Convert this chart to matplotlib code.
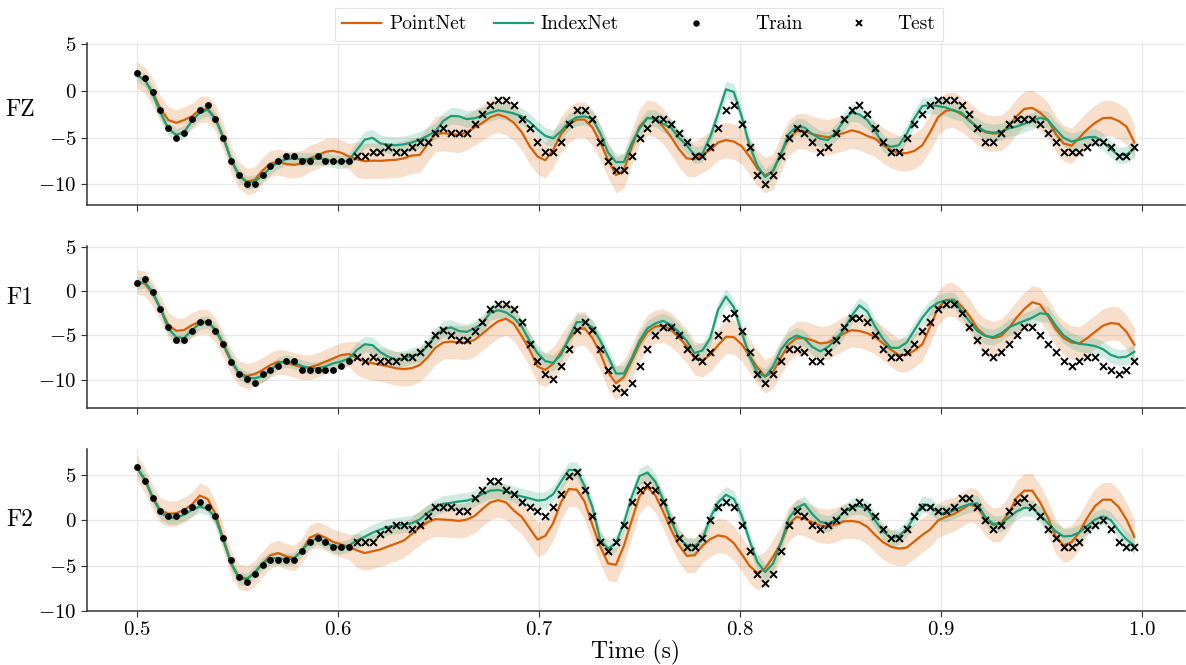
import matplotlib
matplotlib.use("Agg")
import matplotlib.pyplot as plt
import numpy as np
from matplotlib.lines import Line2D
from matplotlib.legend_handler import HandlerLine2D

plt.rcParams["font.family"] = ["cmr10", "DejaVu Serif"]
plt.rcParams["mathtext.fontset"] = "cm"
plt.rcParams["axes.formatter.use_mathtext"] = True

fs = 256          # sampling rate (Hz)
t_start = 0.5     # first sample (s)
n_train = 28      # samples used for training, the rest are test

channels = ["FZ", "F1", "F2"]

# recorded signal
fz_true = [
    1.9, 1.4, -0.1, -2.0, -4.0, -5.0, -4.5, -3.0, -2.0, -1.5,
    -3.0, -5.0, -7.5, -9.0, -10.0, -10.0, -9.0, -8.0, -7.5, -7.0,
    -7.0, -7.5, -7.5, -7.0, -7.5, -7.5, -7.5, -7.5, -7.0, -7.0,
    -6.5, -6.5, -6.0, -6.5, -6.5, -6.0, -5.5, -5.5, -4.5, -4.0,
    -4.5, -4.5, -4.5, -3.5, -2.5, -1.5, -1.0, -1.0, -1.5, -3.0,
    -4.0, -5.5, -6.5, -6.5, -5.5, -3.5, -2.0, -2.0, -3.0, -5.5,
    -7.5, -8.5, -8.5, -7.0, -5.0, -4.0, -3.0, -3.0, -3.5, -4.5,
    -5.5, -7.0, -7.0, -6.0, -4.0, -2.0, -1.5, -3.5, -6.0, -9.0,
    -10.0, -9.0, -7.0, -5.0, -4.0, -4.5, -5.5, -6.5, -6.0, -4.5,
    -3.0, -2.0, -1.5, -2.5, -4.0, -5.5, -6.5, -6.5, -5.0, -3.5,
    -2.5, -1.5, -1.0, -1.0, -1.0, -1.5, -2.5, -4.0, -5.5, -5.5,
    -4.5, -3.5, -3.0, -3.0, -3.0, -3.5, -4.5, -5.5, -6.5, -6.5,
    -6.5, -6.0, -5.5, -5.5, -6.0, -7.0, -7.0, -6.0]
f1_true = [
    0.9, 1.4, -0.1, -2.0, -4.0, -5.5, -5.5, -4.5, -3.5, -3.5,
    -4.5, -6.0, -8.0, -9.4, -9.9, -10.4, -9.4, -8.9, -8.4, -7.9,
    -7.9, -8.9, -8.9, -8.9, -8.9, -8.9, -8.4, -7.9, -7.4, -7.9,
    -7.4, -7.9, -7.9, -7.9, -7.4, -7.4, -6.9, -6.0, -5.0, -4.4,
    -5.0, -5.5, -5.5, -4.5, -3.5, -2.0, -1.5, -1.5, -2.0, -3.5,
    -6.0, -7.9, -9.4, -9.9, -8.4, -6.5, -4.4, -3.5, -4.4, -6.5,
    -8.9, -10.9, -11.4, -10.4, -8.4, -6.5, -5.0, -4.0, -4.0, -5.0,
    -6.5, -7.4, -7.9, -6.9, -5.0, -3.0, -2.5, -4.5, -6.9, -9.4,
    -10.4, -9.4, -7.9, -6.5, -6.5, -6.9, -7.9, -7.9, -6.9, -5.5,
    -4.0, -3.0, -3.0, -3.5, -5.0, -6.5, -7.4, -7.4, -6.9, -6.0,
    -4.5, -3.5, -2.0, -1.5, -1.5, -2.5, -4.0, -5.5, -6.9, -7.4,
    -6.9, -6.0, -5.0, -4.0, -4.0, -5.0, -6.0, -6.9, -7.9, -8.4,
    -7.9, -7.4, -7.4, -8.4, -8.9, -9.4, -8.9, -7.9]
f2_true = [
    5.9, 4.4, 2.45, 1.0, 0.5, 0.5, 1.0, 1.5, 2.0, 1.5,
    0.5, -1.9, -4.4, -6.2, -6.8, -5.9, -4.9, -4.4, -4.4, -4.4,
    -4.4, -3.4, -2.4, -1.9, -2.4, -2.9, -2.9, -2.9, -2.4, -2.4,
    -2.4, -1.5, -0.95, -0.5, -0.5, -0.95, -0.5, 0.5, 1.5, 1.5,
    1.5, 1.0, 1.0, 2.45, 3.4, 4.4, 4.4, 3.4, 2.9, 2.0,
    1.5, 1.0, 0.5, 1.5, 2.9, 4.9, 5.4, 3.4, 0.5, -2.4,
    -3.4, -2.4, -0.5, 2.0, 3.4, 3.9, 3.4, 2.0, 0.1, -1.9,
    -2.9, -2.9, -1.9, 0.1, 1.5, 2.0, 1.5, -0.5, -3.4, -5.9,
    -6.9, -5.9, -3.4, -0.5, 1.0, 0.5, -0.5, -0.95, -0.5, 0.1,
    1.0, 1.5, 2.0, 1.5, 0.5, -0.95, -1.9, -1.9, -0.95, 0.5,
    1.5, 1.5, 1.0, 1.0, 1.5, 2.45, 2.45, 1.5, 0.1, -0.95,
    -0.5, 1.0, 2.0, 2.45, 1.5, 0.5, -0.95, -1.9, -2.9, -2.9,
    -2.4, -0.95, -0.5, 0.1, -0.95, -2.4, -2.9, -2.9]

# PointNet prediction (mean)
fz_point = [
    1.7, 1.2, -0.1, -1.9, -3.1, -3.4, -3.1, -2.7, -2.0, -1.9,
    -2.9, -4.9, -7.4, -9.0, -9.7, -9.5, -8.5, -7.75, -7.6, -7.8,
    -7.9, -7.75, -7.2, -6.9, -6.5, -6.4, -6.6, -7.0, -7.3, -7.5,
    -7.45, -7.47, -7.4, -7.35, -7.2, -6.9, -6.85, -5.7, -4.6, -4.5,
    -4.6, -4.7, -4.4, -3.9, -3.4, -2.8, -2.5, -2.8, -3.4, -4.4,
    -5.9, -7.0, -7.4, -6.3, -4.6, -3.6, -3.05, -3.05, -3.9, -5.5,
    -7.4, -9.0, -8.5, -6.0, -3.8, -2.85, -3.0, -3.8, -4.9, -6.2,
    -7.2, -7.3, -6.8, -6.3, -5.5, -5.25, -5.4, -5.9, -7.0, -8.3,
    -9.0, -8.6, -6.7, -5.0, -4.3, -4.3, -4.6, -4.8, -4.95, -4.7,
    -4.5, -4.2, -4.4, -4.8, -5.1, -5.8, -6.3, -6.65, -6.65, -6.4,
    -5.8, -4.4, -2.8, -2.1, -2.0, -2.5, -3.1, -3.9, -4.4, -4.55,
    -4.5, -3.8, -2.7, -1.9, -1.8, -2.3, -3.1, -4.6, -5.6, -5.85,
    -5.0, -4.1, -3.4, -2.9, -2.85, -3.2, -3.8, -5.5]
f1_point = [
    1.05, 0.86, -0.26, -1.96, -3.84, -4.47, -4.4, -3.84, -3.46, -3.46,
    -4.4, -6.09, -7.97, -9.28, -9.58, -9.36, -8.9, -8.34, -7.97, -8.08,
    -8.34, -8.6, -8.6, -8.34, -7.97, -7.59, -7.22, -7.1, -7.59, -7.97,
    -8.15, -8.3, -8.5, -8.72, -8.8, -8.7, -8.35, -7.5, -6.4, -5.8,
    -5.7, -5.8, -5.8, -5.5, -4.8, -4.05, -3.4, -3.1, -3.7, -5.1,
    -6.6, -8.5, -8.9, -8.2, -6.9, -5.5, -4.3, -4.2, -5.3, -7.0,
    -9.2, -10.4, -9.7, -7.9, -6.0, -4.6, -4.0, -3.9, -4.35, -5.2,
    -6.2, -7.55, -7.8, -7.2, -6.1, -5.15, -5.2, -6.0, -7.3, -8.6,
    -9.65, -9.1, -7.5, -6.0, -5.3, -5.3, -5.55, -5.9, -5.8, -5.3,
    -4.8, -4.4, -4.5, -4.75, -5.2, -5.9, -6.6, -7.2, -7.2, -6.7,
    -6.0, -4.0, -1.9, -1.0, -0.95, -1.7, -2.8, -4.2, -5.0, -5.3,
    -5.1, -4.2, -3.0, -2.0, -1.25, -1.5, -2.8, -4.3, -5.3, -5.8,
    -5.9, -5.3, -4.6, -3.9, -3.6, -3.7, -4.6, -6.05]
f2_point = [
    5.86, 4.47, 2.56, 1.1, 0.73, 0.8, 1.17, 1.76, 2.75, 2.38,
    0.73, -2.0, -4.76, -6.23, -6.4, -5.86, -4.76, -3.85, -3.6, -3.96,
    -4.14, -3.37, -1.9, -1.54, -1.9, -2.38, -2.64, -2.93, -3.3, -3.6,
    -3.4, -3.2, -2.85, -2.55, -2.2, -1.5, -0.8, -0.2, 0.15, 0.1,
    0.05, -0.05, 0.1, 0.5, 1.28, 2.0, 2.25, 2.0, 1.1, 0.4,
    -0.85, -2.1, -1.7, -0.3, 2.0, 3.48, 3.4, 2.1, -0.5, -2.9,
    -4.75, -4.9, -2.8, 0.0, 2.7, 3.66, 2.8, 1.0, -1.0, -2.7,
    -3.9, -3.85, -2.8, -2.05, -1.65, -1.8, -2.5, -3.7, -5.0, -5.8,
    -5.3, -4.0, -2.5, -0.4, 0.4, 0.2, -0.2, -0.55, -0.65, -0.45,
    -0.1, -0.05, -0.2, -0.7, -1.6, -2.4, -2.9, -3.1, -3.0, -2.3,
    -1.6, -1.0, 0.0, 0.4, 0.7, 1.2, 1.75, 1.5, 0.25, -0.5,
    -0.37, 0.8, 2.5, 3.3, 3.3, 2.0, 0.3, -1.8, -2.75, -2.4,
    -1.3, 0.3, 1.6, 2.3, 2.3, 1.5, 0.1, -1.8]

# IndexNet prediction (mean)
fz_index = [
    1.7, 1.2, -0.3, -2.3, -4.0, -4.7, -4.4, -3.2, -2.3, -2.0,
    -3.0, -5.0, -7.4, -9.0, -9.8, -9.7, -9.0, -8.2, -7.6, -7.3,
    -7.2, -7.3, -7.3, -7.2, -7.3, -7.5, -7.6, -7.4, -6.3, -5.2,
    -5.0, -5.6, -5.75, -5.8, -5.7, -5.5, -5.2, -4.8, -4.3, -3.2,
    -2.65, -2.7, -3.0, -2.9, -2.65, -2.3, -2.05, -2.2, -2.4, -2.7,
    -3.3, -4.1, -4.8, -5.05, -4.3, -3.3, -2.8, -2.7, -3.0, -4.5,
    -6.6, -7.6, -7.6, -5.6, -4.0, -2.9, -2.9, -3.5, -3.9, -5.0,
    -5.8, -6.85, -6.7, -4.9, -2.4, 0.2, -0.1, -2.7, -5.8, -8.0,
    -9.2, -8.5, -6.7, -4.6, -3.8, -3.9, -4.6, -5.1, -5.25, -4.4,
    -3.2, -2.3, -2.5, -3.1, -4.3, -5.6, -5.97, -5.8, -4.6, -2.9,
    -1.6, -1.5, -1.6, -1.75, -2.1, -2.3, -3.2, -3.8, -4.3, -4.45,
    -4.35, -4.0, -3.8, -3.5, -3.2, -2.85, -3.1, -4.1, -5.0, -5.4,
    -5.2, -4.95, -4.9, -5.4, -6.2, -6.9, -6.8, -6.15]
f1_index = [
    0.9, 1.05, -0.1, -2.0, -4.2, -5.2, -5.3, -4.4, -3.65, -3.45,
    -4.3, -5.9, -7.8, -9.3, -9.8, -9.85, -9.6, -8.9, -8.15, -7.9,
    -8.1, -8.45, -8.7, -8.7, -8.5, -8.15, -7.95, -7.6, -6.65, -6.0,
    -6.1, -6.9, -7.4, -7.75, -7.6, -7.3, -7.1, -6.2, -5.1, -4.3,
    -4.1, -4.5, -4.6, -4.2, -3.65, -2.4, -2.15, -2.4, -3.0, -4.0,
    -5.6, -7.0, -7.9, -8.1, -7.2, -5.3, -3.5, -3.5, -4.1, -5.6,
    -7.4, -9.3, -9.3, -7.6, -5.6, -4.2, -3.65, -3.35, -3.8, -4.6,
    -5.6, -7.0, -6.7, -5.3, -2.1, -0.6, -1.8, -4.6, -7.4, -9.2,
    -9.65, -8.5, -6.6, -5.5, -5.0, -5.35, -6.3, -6.8, -6.3, -5.4,
    -4.4, -2.8, -1.6, -2.3, -4.0, -5.4, -6.4, -6.4, -5.8, -4.4,
    -3.0, -1.9, -1.3, -1.05, -1.0, -2.2, -3.4, -4.5, -5.05, -5.2,
    -4.8, -4.1, -3.7, -3.35, -3.0, -2.5, -2.6, -3.9, -5.0, -5.6,
    -5.95, -6.05, -6.2, -6.55, -7.2, -7.5, -7.4, -6.85]
f2_index = [
    5.8, 4.6, 2.55, 0.9, 0.3, 0.3, 0.65, 1.15, 1.55, 1.3,
    0.3, -2.2, -4.75, -6.4, -6.5, -5.7, -4.75, -4.2, -4.15, -4.3,
    -4.2, -3.3, -2.4, -1.9, -2.4, -2.85, -3.0, -2.75, -2.2, -1.8,
    -1.35, -1.0, -0.7, -0.55, -0.45, -0.3, 0.1, 0.85, 1.45, 1.85,
    1.95, 2.1, 2.2, 2.45, 2.93, 3.3, 3.37, 3.2, 2.9, 2.65,
    2.45, 2.2, 2.3, 2.9, 4.3, 5.6, 5.55, 3.85, 1.5, -2.2,
    -3.1, -2.5, -0.3, 2.6, 4.9, 5.3, 4.3, 2.3, 0.0, -1.9,
    -2.75, -2.85, -2.1, 0.3, 2.0, 2.85, 2.4, 0.55, -2.2, -4.6,
    -5.7, -4.76, -2.5, 0.2, 1.4, 1.83, 0.7, -0.15, -0.37, 0.1,
    0.9, 1.5, 1.6, 1.3, 0.0, -1.2, -1.95, -1.75, -0.9, 0.4,
    1.8, 1.6, 0.9, 0.75, 1.1, 1.5, 1.8, 1.9, 0.4, -0.35,
    -0.37, 0.3, 1.0, 1.4, 1.35, 0.6, -0.3, -1.2, -1.76, -1.7,
    -1.3, -0.6, 0.1, 0.45, 0.05, -1.1, -2.1, -2.75]

# predictive standard deviation (train part, test part)
point_std = [1.4, 1.9]
index_std = [0.7, 0.9]

true_data = [fz_true, f1_true, f2_true]
point_data = [fz_point, f1_point, f2_point]
index_data = [fz_index, f1_index, f2_index]

ylims = [(-12.2, 5.15), (-13.2, 5.1), (-10.0, 7.9)]
label_y = [0.59, 0.68, 0.56]

orange = "#d95f02"
green = "#1b9e77"


class WideHandler(HandlerLine2D):
    # marker entry that takes a wider handle box than the line entries
    def __init__(self, box_width, **kw):
        super().__init__(**kw)
        self.box_width = box_width

    def legend_artist(self, legend, orig_handle, fontsize, handlebox):
        handlebox.width = self.box_width
        return super().legend_artist(legend, orig_handle, fontsize, handlebox)


fig, axes = plt.subplots(3, 1, figsize=(11.86, 6.65), dpi=100, sharex=True)
fig.subplots_adjust(left=0.0734, right=0.999, top=0.9353, bottom=0.0812,
                    hspace=0.253)

for k, ax in enumerate(axes):
    y_true = np.array(true_data[k])
    y_point = np.array(point_data[k])
    y_index = np.array(index_data[k])
    n = len(y_true)
    t = t_start + np.arange(n) / fs
    is_train = np.arange(n) < n_train
    sd_point = np.where(is_train, point_std[0], point_std[1])
    sd_index = np.where(is_train, index_std[0], index_std[1])

    ax.fill_between(t, y_point - sd_point, y_point + sd_point,
                    color=orange, alpha=0.2, linewidth=0)
    ax.fill_between(t, y_index - sd_index, y_index + sd_index,
                    color=green, alpha=0.2, linewidth=0)
    ax.plot(t, y_point, color=orange, lw=1.6)
    ax.plot(t, y_index, color=green, lw=1.6)
    ax.scatter(t[is_train], y_true[is_train], s=24, color="black",
               marker="o", zorder=5, linewidths=0)
    ax.scatter(t[~is_train], y_true[~is_train], s=25, color="black",
               marker="x", zorder=5, linewidths=1.4)

    ax.set_ylim(*ylims[k])
    ax.set_xlim(0.4752, 1.0212)
    ax.set_yticks([-10, -5, 0, 5])
    ax.set_xticks([0.5, 0.6, 0.7, 0.8, 0.9, 1.0])
    ax.grid(True, color="#e8e8e8", linewidth=0.9)
    ax.set_axisbelow(True)
    for side in ["top", "right"]:
        ax.spines[side].set_visible(False)
    for side in ["left", "bottom"]:
        ax.spines[side].set_color("#333333")
        ax.spines[side].set_linewidth(1.1)
    ax.tick_params(labelsize=15, length=4, color="#333333")
    ax.set_ylabel(channels[k], rotation=0, fontsize=17, ha="center",
                  va="center")
    ax.yaxis.set_label_coords(-0.061, label_y[k])

axes[-1].set_xlabel("Time (s)", fontsize=17, labelpad=0)

h_point = Line2D([], [], color=orange, lw=1.6)
h_index = Line2D([], [], color=green, lw=1.6)
h_train = Line2D([], [], color="black", marker="o", ls="none",
                 markersize=4.6, markeredgewidth=0)
h_test = Line2D([], [], color="black", marker="x", ls="none",
                markersize=4.8, markeredgewidth=1.4)
leg = fig.legend([h_point, h_index, h_train, h_test],
                 ["PointNet", "IndexNet", "Train", "Test"],
                 loc="upper center", bbox_to_anchor=(0.5385, 1.003), ncol=4,
                 fontsize=14, frameon=True, fancybox=False,
                 edgecolor="#dddddd", handlelength=2.0, columnspacing=1.4,
                 handletextpad=0.4, borderpad=0.4,
                 handler_map={h_train: WideHandler(73),
                              h_test: WideHandler(43)})
leg.get_frame().set_linewidth(0.8)

fig.savefig("out.png", dpi=100)
